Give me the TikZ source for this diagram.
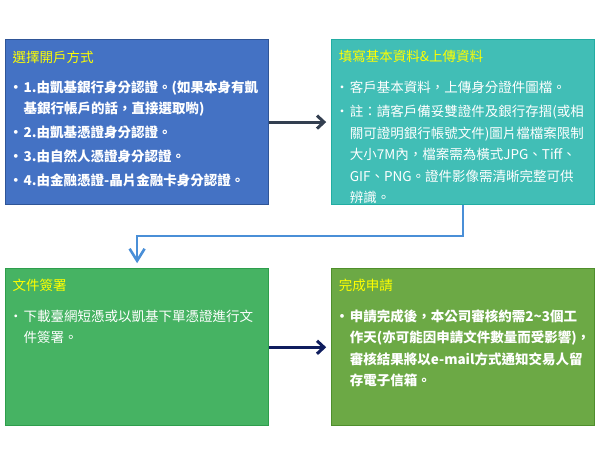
\documentclass[tikz,border=0pt]{standalone}
\usepackage{fontspec}
\setmainfont{Noto Sans CJK TC}
\usepackage{xcolor}
\usepackage{tikz}
\usetikzlibrary{arrows.meta, positioning, calc}

\definecolor{selblue}{HTML}{4472C4}
\definecolor{selblueD}{HTML}{2F5597}
\definecolor{fillteal}{HTML}{41BEB6}
\definecolor{filltealD}{HTML}{22ADA3}
\definecolor{signgreen}{HTML}{46B363}
\definecolor{signgreenD}{HTML}{2E9E4C}
\definecolor{doneolive}{HTML}{6CA945}
\definecolor{doneoliveD}{HTML}{4F8F2C}
\definecolor{ttlyellow}{HTML}{FFFF00}
\definecolor{arrdark}{HTML}{333F50}
\definecolor{arrnavy}{HTML}{0F1D5E}
\definecolor{arrblue}{HTML}{4A8FD7}

\newcommand{\itm}{\makebox[11pt][l]{\hspace{-3.5pt}•}}
\newcommand{\ind}{\hspace*{11pt}}
\newcommand{\ttl}[1]{\rule{0pt}{12.5pt}\textcolor{ttlyellow}{#1}}

\tikzset{
  stepbox/.style={rectangle, line width=1.2pt, minimum width=263pt,
                  inner sep=0pt},
  body/.style={anchor=north west, align=left, inner sep=0pt, text=white,
               font=\fontsize{13.5}{21.5}\selectfont},
  arrow/.style={-{Straight Barb[length=7pt, width=13pt]}, line width=3pt},
}

\begin{document}
\begin{tikzpicture}[x=1pt, y=1pt, node distance=63pt and 61.5pt]
  \useasboundingbox (0,0) rectangle (600,462);

  % Boxes
  \node[stepbox, fill=selblue, draw=selblueD, minimum height=165pt,
        anchor=north west] (select) at (5,423) {};
  \node[stepbox, fill=fillteal, draw=filltealD, minimum height=165pt,
        right=of select] (fill) {};
  \node[stepbox, fill=signgreen, draw=signgreenD, minimum height=157pt,
        below=of select] (sign) {};
  \node[stepbox, fill=doneolive, draw=doneoliveD, minimum height=157pt,
        right=of sign] (done) {};

  % Texts (first baseline 23pt below box top)
  \node[body, font=\fontsize{13.5}{21.5}\selectfont\bfseries]
    (selectT) at ($(select.north west)+(7.5,-10.5)$)
    {\mdseries\ttl{選擇開戶方式}\\[8.5pt]
     \itm 1.由凱基銀行身分認證。(如果本身有凱\\
     \ind 基銀行帳戶的話，直接選取喲)\\[2.5pt]
     \itm 2.由凱基憑證身分認證。\\[2.5pt]
     \itm 3.由自然人憑證身分認證。\\[2.5pt]
     \itm 4.由金融憑證-晶片金融卡身分認證。};
  \node[body] (fillT) at ($(fill.north west)+(8,-10)$)
    {\ttl{填寫基本資料\&上傳資料}\\[9pt]
     \itm 客戶基本資料，上傳身分證件圖檔。\\[3pt]
     \itm 註：請客戶備妥雙證件及銀行存摺(或相\\
     \ind 關可證明銀行帳號文件)圖片檔檔案限制\\
     \ind 大小7M內，檔案需為橫式JPG、Tiff、\\
     \ind GIF、PNG。證件影像需清晰完整可供\\
     \ind 辨識。};
  \node[body] (signT) at ($(sign.north west)+(7.5,-10)$)
    {\ttl{文件簽署}\\[9pt]
     \itm 下載臺網短憑或以凱基下單憑證進行文\\
     \ind 件簽署。};
  \node[body, font=\fontsize{13.5}{21.5}\selectfont\bfseries]
    (doneT) at ($(done.north west)+(8,-10)$)
    {\mdseries\ttl{完成申請}\\[9pt]
     \itm 申請完成後，本公司審核約需2\textasciitilde 3個工\\
     \ind 作天(亦可能因申請文件數量而受影響)，\\
     \ind 審核結果將以e-mail方式通知交易人留\\
     \ind 存電子信箱。};

  % Edges
  \draw[arrow, arrdark, shorten >=4.5pt] (select.east) -- (fill.west);
  \draw[arrow, arrblue, -{Straight Barb[length=12pt, width=15pt]},
        line width=2.6pt, shorten >=5pt]
    (fill.south) -- ++(0,-31) -| (sign.north);
  \draw[arrow, arrnavy, shorten >=4.5pt] (sign.east) -- (done.west);
\end{tikzpicture}
\end{document}
